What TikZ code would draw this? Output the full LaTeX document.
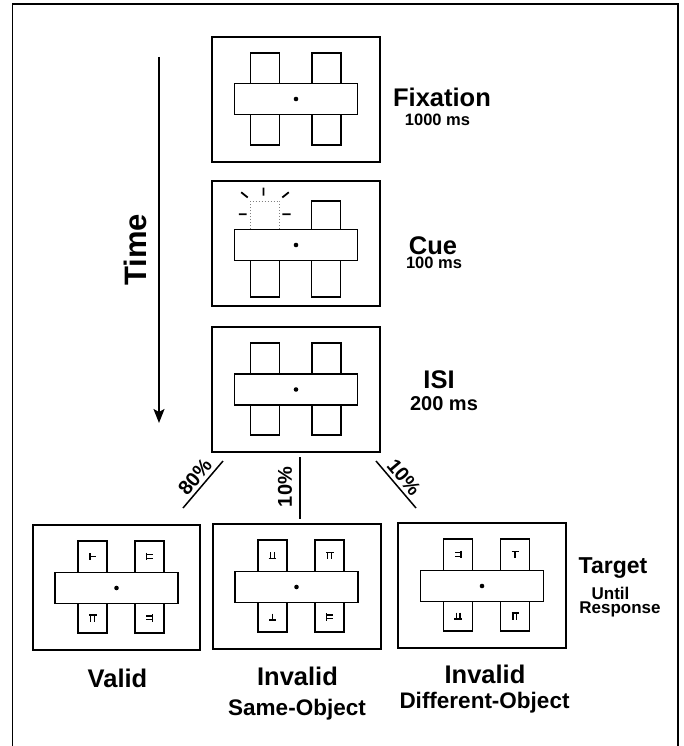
\documentclass[tikz,border=0pt]{standalone}
\usepackage{fontspec}
\setmainfont{Liberation Sans}
\usetikzlibrary{arrows.meta}
\newcommand\stimfig[5]{% cx, bar cy, rect cy, left offset, right offset
  \draw[stimline] ({#1+#4-14.5},{#3-46}) rectangle ({#1+#4+14.5},{#3+46});
  \draw[stimline] ({#1+#5-14.5},{#3-46}) rectangle ({#1+#5+14.5},{#3+46});
  \draw[barfill] ({#1-61.5},{#2-15.5}) rectangle ({#1+61.5},{#2+15.5});
  \fill ({#1},{#2}) circle (2.3);
}
\tikzset{
  glyphline/.style={line width=1.3pt, line cap=butt},
  Tup/.pic={\draw[glyphline] (-3.5,-3)--(3.5,-3) (0,-3)--(0,3.5);},
  Tdown/.pic={\draw[glyphline] (-3.5,3)--(3.5,3) (0,-3.5)--(0,3);},
  Tright/.pic={\draw[glyphline] (-2.5,-3.5)--(-2.5,3.5) (-2.5,0)--(3,0);},
  Pup/.pic={\draw[glyphline] (-3.5,-3)--(4,-3) (-2,-3)--(-2,3.5) (1.8,-3)--(1.8,3.5);},
  Pdown/.pic={\draw[glyphline] (-4,3)--(3.5,3) (-1.8,-3.5)--(-1.8,3) (2,-3.5)--(2,3);},
  Pright/.pic={\draw[glyphline] (-3,-4)--(-3,3.5) (-3,-2)--(3.5,-2) (-3,1.8)--(3.5,1.8);},
  Pleft/.pic={\draw[glyphline] (3,-4)--(3,3.5) (3,-2)--(-3.5,-2) (3,1.8)--(-3.5,1.8);},
}
\begin{document}
\begin{tikzpicture}[x=1pt,y=-1pt,
  panel/.style={draw, line width=2pt, minimum width=168pt, minimum height=125pt, inner sep=0pt},
  stimline/.style={draw, line width=1.5pt},
  barfill/.style={draw, line width=1.5pt, fill=white},
  connline/.style={line width=1.5pt},
  titletext/.style={font=\fontsize{25.5}{28}\selectfont\bfseries, anchor=base, inner sep=0pt},
  subtext/.style={font=\fontsize{16.5}{18}\selectfont\bfseries, anchor=base, inner sep=0pt},
  condtext/.style={font=\fontsize{22.5}{25}\selectfont\bfseries, anchor=base, inner sep=0pt},
  pcttext/.style={font=\fontsize{20}{22}\selectfont\bfseries, inner sep=0pt},
]
\useasboundingbox (0,0) rectangle (683,746);
% outer frame
\draw[line width=1.3pt] (12.5,746) -- (12.5,4) -- (678,4) -- (678,746);

% panels
\node[panel] (fix) at (296,99.5) {};
\node[panel] (cue) at (296,243.5) {};
\node[panel] (isi) at (296,389) {};
\node[panel, minimum width=167pt] (valid) at (116.5,587.5) {};
\node[panel] (same) at (296.5,586) {};
\node[panel] (diff) at (482,585) {};

% fixation
\stimfig{296}{99}{99}{-31}{30.5}
% ISI
\stimfig{296}{389.5}{389}{-31}{30.5}
% cue
\draw[stimline] (311.5,201) rectangle (340.5,297);
\draw[line width=1pt, gray, dotted] (250.5,232) -- (250.5,201) -- (279.5,201) -- (279.5,232);
\draw[stimline] (250.5,258) -- (250.5,297) -- (279.5,297) -- (279.5,258);
\draw[barfill] (234.5,229.5) rectangle (357.5,260.5);
\fill (296,245) circle (2.3);
\draw[line width=1.8pt] (263.5,187.5) -- (263.5,195.5)
  (241.2,192.3) -- (247.7,197.5)
  (288.8,192.3) -- (282.3,197.5)
  (238.8,214.3) -- (246.7,214.3)
  (282.3,214.3) -- (290.5,214.3);

% targets
\stimfig{116.5}{588}{587}{-24}{33}
\stimfig{296.5}{587}{586}{-24}{33}
\stimfig{482}{586}{585}{-24}{33}
% valid
\pic at (92.5,556.5) {Tright};
\pic at (149.5,556.5) {Pright};
\pic at (92.5,618) {Pup};
\pic at (149.5,618) {Pleft};
% same object
\pic at (272.5,555.5) {Pdown};
\pic at (329.5,555.5) {Pup};
\pic at (272.5,617) {Tdown};
\pic at (329.5,617) {Pright};
% different object
\pic at (458,554.5) {Pleft};
\pic at (515,554.5) {Tup};
\pic at (458,616) {Pdown};
\pic at (515,616) {Pup};

% time arrow
\coordinate (tstart) at (159,57);
\coordinate (tend) at (159,423);
\draw[line width=1.4pt, -{Stealth[length=14pt,width=11pt,inset=3pt]}] (tstart) -- (tend);
\node[font=\fontsize{31}{34}\selectfont\bfseries, rotate=90, inner sep=0pt] (timelbl) at (135,250) {Time};

% branches
\coordinate (b1a) at (223,461); \coordinate (b1b) at (183,508);
\coordinate (b2a) at (300,457); \coordinate (b2b) at (300,519);
\coordinate (b3a) at (376,461); \coordinate (b3b) at (416,508);
\draw[connline] (b1a) -- (b1b);
\draw[connline] (b2a) -- (b2b);
\draw[connline] (b3a) -- (b3b);
\node[pcttext, rotate=50] (p80) at (195,477) {80\%};
\node[pcttext, rotate=90] (p10a) at (285,487) {10\%};
\node[pcttext, rotate=-50] (p10b) at (404,477) {10\%};

% labels
\node[titletext] (lfix) at (442,107) {Fixation};
\node[subtext] (lfixt) at (437.5,126) {1000 ms};
\node[titletext] (lcue) at (433,254) {Cue};
\node[subtext] (lcuet) at (434,268) {100 ms};
\node[titletext] (lisi) at (439,388) {ISI};
\node[font=\fontsize{20}{22}\selectfont\bfseries, anchor=base, inner sep=0pt] (lisit) at (444,410) {200 ms};
\node[titletext] (lvalid) at (117.5,687) {Valid};
\node[titletext] (linv1) at (297.5,685) {Invalid};
\node[condtext] (lsame) at (297,715) {Same-Object};
\node[titletext] (linv2) at (485,683) {Invalid};
\node[condtext] (ldiff) at (484.5,708) {Different-Object};
\node[font=\fontsize{23}{25}\selectfont\bfseries, anchor=base, inner sep=0pt] (ltarget) at (613,573) {Target};
\node[font=\fontsize{17}{19}\selectfont\bfseries, anchor=base, inner sep=0pt] (luntil) at (610.5,599) {Until};
\node[font=\fontsize{17}{19}\selectfont\bfseries, anchor=base, inner sep=0pt] (lresp) at (620,613) {Response};
\end{tikzpicture}
\end{document}
